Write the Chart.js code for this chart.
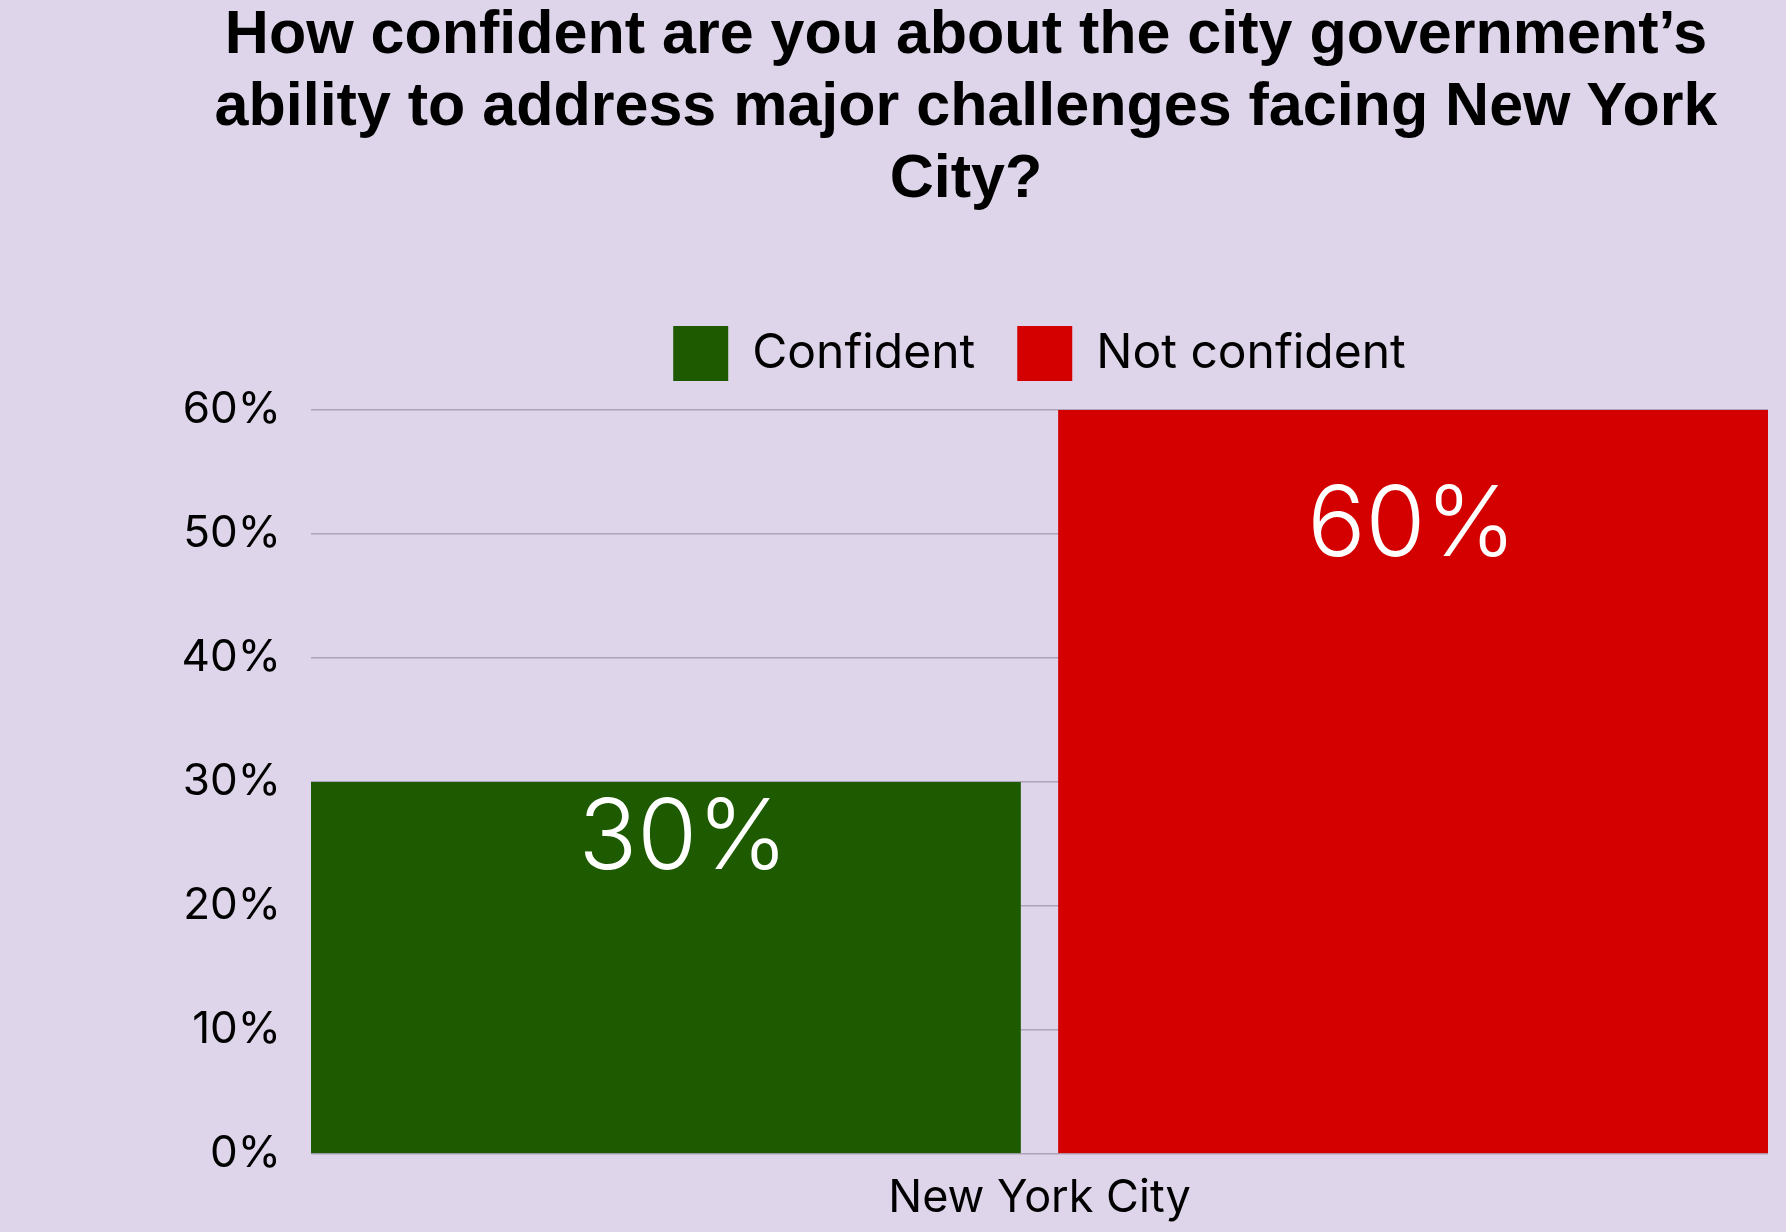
<!DOCTYPE html>
<html>
<head>
<meta charset="utf-8">
<script src="https://cdn.jsdelivr.net/npm/chart.js@4/dist/chart.umd.min.js"></script>
<style>
	html, body { margin: 0; padding: 0; background: #ded5ea; }
	#wrap { position: relative; width: 1786px; height: 1232px; }
	#title {
		position: absolute; top: -4px; left: 0; width: 1786px; box-sizing: border-box;
		padding-left: 146px; text-align: center;
		font-family: "Liberation Sans", Arial, sans-serif; font-weight: 700;
		font-size: 61px; line-height: 72px; color: #000; margin: 0;
	}
	canvas { position: absolute; top: 0; left: 0; }
</style>
</head>
<body>
<div id="wrap">
	<canvas id="chart" width="1786" height="1232"></canvas>
	<h1 id="title">How confident are you about the city government’s<br>ability to address major challenges facing New York<br>City?</h1>
</div>
<script>
// Confidence in NYC government — grouped bar
const categories = ["New York City"];
const seriesNames = ["Confident", "Not confident"];
const confident = [30];
const notConfident = [60];
const yTicks = [0, 10, 20, 30, 40, 50, 60];

const FONT = "Inter, 'Noto Sans', sans-serif";

// white value labels inside the bars
const barLabels = {
	id: "barLabels",
	afterDatasetsDraw(chart) {
		const ctx = chart.ctx;
		ctx.save();
		ctx.fillStyle = "#fff";
		ctx.font = "300 97px " + FONT;
		ctx.textAlign = "center";
		ctx.textBaseline = "middle";
		chart.data.datasets.forEach((ds, i) => {
			chart.getDatasetMeta(i).data.forEach((bar, j) => {
				const y = bar.y + (bar.base - bar.y) * 0.157;
				ctx.fillText(ds.data[j] + "%", bar.x + 8, y);
			});
		});
		ctx.restore();
	},
};

// extra room under the legend
const legendGap = {
	id: "legendGap",
	beforeInit(chart) {
		const fit = chart.legend.fit;
		chart.legend.fit = function () {
			fit.call(this);
			this.height += 19;
		};
	},
};

new Chart(document.getElementById("chart"), {
	type: "bar",
	data: {
		labels: categories,
		datasets: [
			{
				label: seriesNames[0],
				data: confident,
				backgroundColor: "#1e5b00",
				borderColor: "rgba(0,0,0,0)",
				borderWidth: { left: 0, right: 19, top: 0, bottom: 0 },
				borderSkipped: false,
			},
			{
				label: seriesNames[1],
				data: notConfident,
				backgroundColor: "#d40000",
				borderColor: "rgba(0,0,0,0)",
				borderWidth: { left: 19, right: 0, top: 0, bottom: 0 },
				borderSkipped: false,
			},
		],
	},
	options: {
		responsive: false,
		animation: false,
		categoryPercentage: 1,
		barPercentage: 1,
		layout: { padding: { top: 284, right: 18, bottom: 0, left: 0 } },
		plugins: {
			legend: {
				position: "top",
				fullSize: false,
				labels: {
					boxWidth: 55,
					boxHeight: 55,
					padding: 42,
					color: "#000",
					font: { family: FONT, size: 48 },
					generateLabels(chart) {
						return chart.data.datasets.map((ds, i) => ({
							text: ds.label,
							fillStyle: ds.backgroundColor,
							strokeStyle: ds.backgroundColor,
							lineWidth: 0,
							datasetIndex: i,
							fontColor: "#000",
						}));
					},
				},
			},
			tooltip: { enabled: false },
		},
		scales: {
			x: {
				grid: { display: false, drawTicks: false },
				border: { display: false },
				afterFit(scale) {
					scale.height = 78;
				},
				ticks: { color: "#000", padding: 17, font: { family: FONT, size: 45 } },
			},
			y: {
				min: 0,
				max: 60,
				afterBuildTicks(scale) {
					scale.ticks = yTicks.map((v) => ({ value: v }));
				},
				afterFit(scale) {
					scale.width = 311;
				},
				grid: { color: "#aca4b8", lineWidth: 1.5, drawTicks: false },
				border: { display: false },
				ticks: {
					color: "#000",
					padding: 30,
					font: { family: FONT, size: 44 },
					callback: (v) => v + "%",
				},
			},
		},
	},
	plugins: [barLabels, legendGap],
});
</script>
</body>
</html>
